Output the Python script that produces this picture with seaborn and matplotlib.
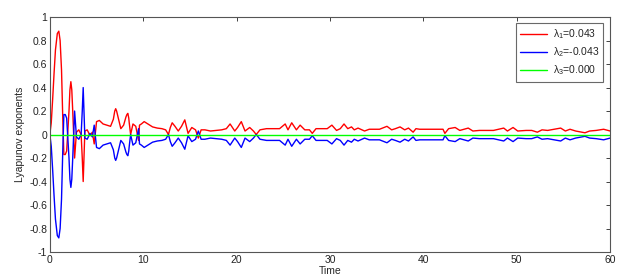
import pandas as pd
import seaborn as sns
import matplotlib.pyplot as plt
from matplotlib.ticker import FuncFormatter, MultipleLocator

# time points
time = [0, 0.15, 0.3, 0.45, 0.6, 0.8, 0.96, 1.1, 1.25, 1.38, 1.5, 1.65, 1.8, 2.05, 2.15, 2.25,
        2.35, 2.45, 2.65, 2.85, 3.1, 3.35, 3.47, 3.57, 3.65, 3.75,
        4.0, 4.3, 4.55, 4.75, 5.0, 5.3, 5.7, 6.1, 6.5, 6.8, 6.95, 7.05, 7.15, 7.3, 7.6, 7.9,
        8.15, 8.25, 8.35, 8.45,
        8.5, 8.65, 8.9, 9.2, 9.5, 9.6, 9.8, 10.1, 10.5, 11.0, 11.5, 12.0, 12.4, 12.7, 12.9,
        13.1, 13.4, 13.75, 14.1, 14.45, 14.8, 15.2, 15.6, 15.9, 16.2, 16.6, 17.2, 17.8, 18.4,
        18.9, 19.3, 19.8, 20.1, 20.5, 20.9, 21.4, 21.8, 22.1, 22.5, 23.2, 24.0, 24.6, 25.2,
        25.5, 25.9, 26.4, 26.8, 27.3, 27.8, 28.1, 28.5, 29.2, 29.7, 30.2, 30.7, 31.1, 31.5,
        31.9, 32.3, 32.6, 33.0, 33.7, 34.2, 35.3, 36.1, 36.6, 37.0, 37.5, 38.0, 38.4, 38.9,
        39.2, 39.6, 41.0, 42.1, 42.3, 42.7, 43.4, 43.9, 44.8, 45.3, 46.0, 47.5, 48.6, 49.0,
        49.6, 50.1, 51.0, 51.6, 52.2, 52.7, 53.3, 54.7, 55.2, 55.7, 56.3, 57.3, 57.8, 58.5,
        59.3, 60]

lam1 = [0, 0.1, 0.3, 0.52, 0.72, 0.86, 0.88, 0.8, 0.55, 0.15, -0.17, -0.17, -0.14, 0.2, 0.38, 0.45,
        0.38, 0.2, -0.2, 0.02, 0.04, 0.0, -0.2, -0.4, -0.2, 0.03,
        0.04, -0.01, 0.02, -0.08, 0.11, 0.12, 0.09, 0.08, 0.07, 0.13, 0.2, 0.22, 0.2, 0.15, 0.05, 0.08,
        0.15, 0.17, 0.18, 0.14,
        0.1, 0.0, 0.09, 0.07, -0.05, 0.08, 0.09, 0.11, 0.09, 0.065, 0.055, 0.05, 0.04, 0.0, 0.06,
        0.1, 0.07, 0.03, 0.07, 0.125, 0.01, 0.06, 0.04, -0.03, 0.04, 0.04, 0.03, 0.035, 0.04,
        0.05, 0.09, 0.03, 0.06, 0.11, 0.03, 0.06, 0.03, 0.0, 0.04, 0.05, 0.05, 0.05, 0.09,
        0.04, 0.1, 0.04, 0.08, 0.04, 0.04, 0.01, 0.05, 0.05, 0.05, 0.08, 0.035, 0.05, 0.09,
        0.05, 0.065, 0.04, 0.055, 0.03, 0.045, 0.045, 0.07, 0.04, 0.05, 0.065, 0.04, 0.055, 0.02,
        0.05, 0.045, 0.045, 0.045, 0.01, 0.05, 0.06, 0.035, 0.055, 0.03, 0.035, 0.035, 0.055, 0.03,
        0.06, 0.03, 0.035, 0.035, 0.02, 0.04, 0.035, 0.055, 0.03, 0.045, 0.03, 0.015, 0.03, 0.035,
        0.045, 0.03]

lam2 = [0, -0.1, -0.3, -0.52, -0.72, -0.86, -0.88, -0.8, -0.55, -0.15, 0.17, 0.17, 0.14, -0.2, -0.38, -0.45,
        -0.38, -0.2, 0.2, -0.02, -0.04, 0.0, 0.2, 0.4, 0.2, -0.03,
        -0.04, 0.01, -0.02, 0.08, -0.11, -0.12, -0.09, -0.08, -0.07, -0.13, -0.2, -0.22, -0.2, -0.15, -0.05, -0.08,
        -0.15, -0.17, -0.18, -0.14,
        -0.1, 0.0, -0.09, -0.07, 0.05, -0.08, -0.09, -0.11, -0.09, -0.065, -0.055, -0.05, -0.04, 0.0, -0.06,
        -0.1, -0.07, -0.03, -0.07, -0.125, -0.01, -0.06, -0.04, 0.03, -0.04, -0.04, -0.03, -0.035, -0.04,
        -0.05, -0.09, -0.03, -0.06, -0.11, -0.03, -0.06, -0.03, 0.0, -0.04, -0.05, -0.05, -0.05, -0.09,
        -0.04, -0.1, -0.04, -0.08, -0.04, -0.04, -0.01, -0.05, -0.05, -0.05, -0.08, -0.035, -0.05, -0.09,
        -0.05, -0.065, -0.04, -0.055, -0.03, -0.045, -0.045, -0.07, -0.04, -0.05, -0.065, -0.04, -0.055, -0.02,
        -0.05, -0.045, -0.045, -0.045, -0.01, -0.05, -0.06, -0.035, -0.055, -0.03, -0.035, -0.035, -0.055, -0.03,
        -0.06, -0.03, -0.035, -0.035, -0.02, -0.04, -0.035, -0.055, -0.03, -0.045, -0.03, -0.015, -0.03, -0.035,
        -0.045, -0.03]

lam3 = [0.0] * len(time)

labels = [r'$\lambda_1$=0.043', r'$\lambda_2$=-0.043', r'$\lambda_3$=0.000']
colors = ['#ff0000', '#0000ff', '#00ff00']

tab = pd.DataFrame({'Time': time, labels[0]: lam1, labels[1]: lam2, labels[2]: lam3})
long = tab.melt(id_vars='Time', var_name='exponent', value_name='value')

sns.set_style('white')
plt.rcParams['font.family'] = ['Liberation Sans', 'DejaVu Sans']
plt.rcParams['axes.unicode_minus'] = False
plt.rcParams['mathtext.fontset'] = 'custom'
plt.rcParams['mathtext.rm'] = 'Liberation Sans'
plt.rcParams['mathtext.it'] = 'Liberation Sans'

fig = plt.figure(figsize=(6.31, 2.8), dpi=100)
ax = fig.add_axes([0.079, 0.1, 0.888, 0.839])

sns.lineplot(data=long, x='Time', y='value', hue='exponent', palette=colors,
             linewidth=1.0, ax=ax, estimator=None, sort=False)

ax.set_xlim(0, 60)
ax.set_ylim(-1, 1)
ax.xaxis.set_major_locator(MultipleLocator(10))
ax.yaxis.set_major_locator(MultipleLocator(0.2))
ax.yaxis.set_major_formatter(FuncFormatter(lambda v, p: '%g' % round(v, 1)))
ax.tick_params(direction='in', length=3, width=0.6, labelsize=7.5, colors='#222222',
               top=True, right=True, pad=2)
for s in ax.spines.values():
    s.set_linewidth(0.8)
    s.set_color('#555555')
ax.set_xlabel('Time', fontsize=7.5, labelpad=1)
ax.set_ylabel('Lyapunov exponents', fontsize=7.5, labelpad=3)

leg = ax.legend(loc='upper right', fontsize=7.5, frameon=True, fancybox=False,
                edgecolor='#444444', handlelength=2.6, handletextpad=0.5, borderpad=0.4,
                labelspacing=0.4, bbox_to_anchor=(0.997, 0.995))
leg.get_frame().set_linewidth(0.8)

fig.savefig('out.png', dpi=100)
